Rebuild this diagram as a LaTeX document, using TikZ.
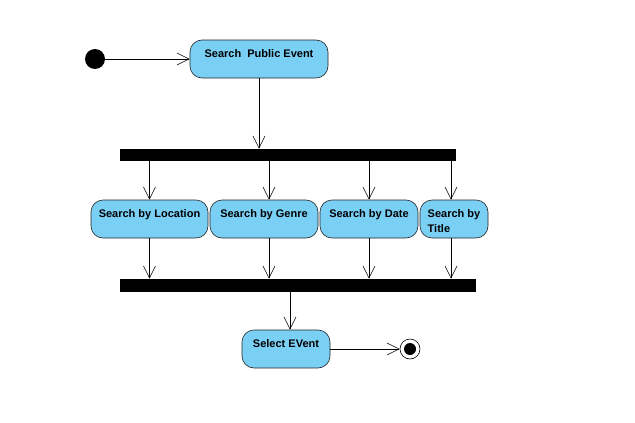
\documentclass[tikz,border=0pt]{standalone}
\usepackage{fontspec}
\setmainfont{Liberation Sans}
\usepackage{tikz}
\usetikzlibrary{positioning}
\usetikzlibrary{arrows.meta}

\definecolor{actblue}{RGB}{122,207,245}

\begin{document}
\begin{tikzpicture}[x=1pt,y=-1pt,>={Straight Barb[length=12pt,width=12pt]},semithick,
  action/.style={rectangle,rounded corners=12pt,draw=black!85,fill=actblue,
    minimum height=38pt,inner ysep=0pt,inner xsep=7.5pt,text height=17pt,text depth=21pt,
    font=\fontsize{11}{15}\selectfont\bfseries},
  bar/.style={rectangle,fill=black,inner sep=0pt},
  start/.style={circle,fill=black,minimum size=20pt,inner sep=0pt},
  stop/.style={circle,draw,fill=white,minimum size=20pt,inner sep=0pt,
    path picture={\fill[black] (path picture bounding box.center) circle (6pt);}}]
\useasboundingbox (0,0) rectangle (635,423);

\node[start] (init) at (95,59) {};
\node[action,minimum width=138pt] (spe) at (259,59) {Search~ Public Event};

\node[bar,minimum width=336pt,minimum height=12pt] (fork) at (288,155) {};

\node[action,minimum width=117pt] (loc) at (149.5,219) {Search by Location};
\node[action,minimum width=108pt] (gen) at (264,219) {Search by Genre};
\node[action,minimum width=98pt] (dat) at (369,219) {Search by Date};
\node[action,minimum width=68pt,align=left,text height=32pt,text depth=6pt] (tit) at (454,219) {Search by\\Title};

\node[bar,minimum width=356pt,minimum height=13pt] (join) at (298,285.5) {};

\node[action,minimum width=88pt] (sel) at (286,349) {Select EVent};
\node[stop] (final) at (410,349) {};

\draw[->] (init) -- (spe);
\draw[->] (spe) -- (spe.south |- fork.north);

\draw[->] (loc.north |- fork.south) -- (loc);
\draw[->] ([xshift=5pt]gen.north |- fork.south) -- ([xshift=5pt]gen.north);
\draw[->] (dat.north |- fork.south) -- (dat);
\draw[->] ([xshift=-3pt]tit.north |- fork.south) -- ([xshift=-3pt]tit.north);

\draw[->] (loc) -- (loc.south |- join.north);
\draw[->] ([xshift=5pt]gen.south) -- ([xshift=5pt]gen.south |- join.north);
\draw[->] (dat) -- (dat.south |- join.north);
\draw[->] ([xshift=-3pt]tit.south) -- ([xshift=-3pt]tit.south |- join.north);

\draw[->] ([xshift=4pt]sel.north |- join.south) -- ([xshift=4pt]sel.north);
\draw[->] (sel) -- (final);
\end{tikzpicture}
\end{document}
